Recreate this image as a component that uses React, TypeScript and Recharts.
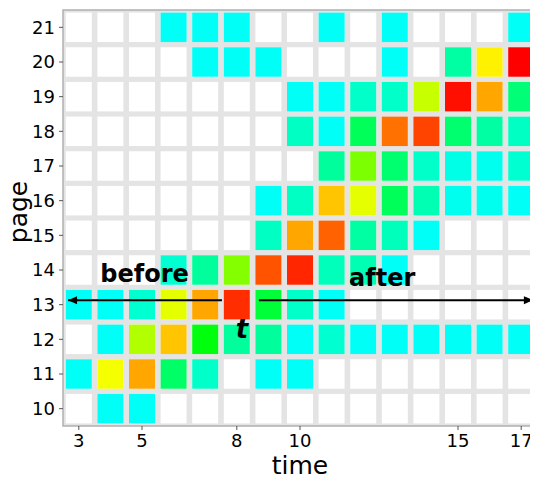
import {
  ScatterChart,
  Scatter,
  XAxis,
  YAxis,
  CartesianGrid,
  ReferenceArea,
  ReferenceDot,
  Label,
} from 'recharts';

// ─── data ─────────────────────────────────────────────────────────────────────

const N = null;

const times = [3, 4, 5, 6, 7, 8, 9, 10, 11, 12, 13, 14, 15, 16, 17];
const pages = [21, 20, 19, 18, 17, 16, 15, 14, 13, 12, 11, 10];
const timeTicks = [3, 5, 8, 10, 15, 17];
const pageTicks = [10, 11, 12, 13, 14, 15, 16, 17, 18, 19, 20, 21];

// intensity per time step (0 = cyan … 100 = red), null = not visited
const page21 = [N, N, N, 0, 0, 0, N, N, 0, N, 0, N, N, N, 0];
const page20 = [N, N, N, N, 0, 0, 0, N, N, N, 0, N, 11, 68, 100];
const page19 = [N, N, N, N, N, N, N, 0, 0, 6, 6, 59, 98, 78, 17];
const page18 = [N, N, N, N, N, N, N, 7, 0, 21, 85, 91, 18, 11, 7];
const page17 = [N, N, N, N, N, N, N, N, 12, 49, 18, 6, 2, 1, 5];
const page16 = [N, N, N, N, N, N, 0, 7, 74, 63, 21, 9, 1, 1, 0];
const page15 = [N, N, N, N, N, N, 7, 78, 87, 11, 8, 0, N, N, N];
const page14 = [N, N, N, 5, 12, 50, 89, 95, 8, 9, 0, N, N, N, N];
const page13 = [0, 0, 5, 63, 78, 94, 25, 6, 0, N, N, N, N, N, N];
const page12 = [N, 0, 56, 74, 31, 12, 12, 0, 5, 0, 0, 0, 0, 0, 0];
const page11 = [0, 65, 78, 19, 6, N, 0, 0, N, N, N, N, N, N, N];
const page10 = [N, 0, 0, N, N, N, N, N, N, N, N, N, N, N, N];

const rows = [page21, page20, page19, page18, page17, page16, page15, page14, page13, page12, page11, page10];

// annotations (data coordinates); dir marks the arrow tip
const beforeArrow = [{ time: 7.53, page: 13.13, dir: 0 }, { time: 2.66, page: 13.13, dir: -1 }];
const afterArrow = [{ time: 8.7, page: 13.13, dir: 0 }, { time: 17.37, page: 13.13, dir: 1 }];
const beforeText = { x: 5.08, y: 13.65, text: 'before' };
const afterText = { x: 12.6, y: 13.54, text: 'after' };
const tText = { x: 8.16, y: 12.04, text: 't' };

// ─── helpers ──────────────────────────────────────────────────────────────────

const FONT = 'DejaVu Sans';
const W = 530;
const H = 472;
const PLOT_W = 474;
const PLOT_H = 416;
const CELL_W = PLOT_W / times.length - 5.6;
const CELL_H = PLOT_H / pages.length - 5.2;

const cells = pages.flatMap((p, r) => times.map((t, c) => ({ time: t, page: p, v: rows[r][c] })));
const filled = cells.filter(d => d.v !== null);

function heat(v: number) {
  const hue = 178 - 1.78 * v;
  return `hsl(${hue}, 100%, 50%)`;
}

const WhiteCell = (p: any) => (
  <rect x={p.cx - CELL_W / 2} y={p.cy - CELL_H / 2} width={CELL_W} height={CELL_H} fill="#ffffff" />
);

const HeatCell = (p: any) => (
  <rect x={p.cx - CELL_W / 2} y={p.cy - CELL_H / 2} width={CELL_W} height={CELL_H} fill={heat(p.payload.v)} />
);

const ArrowHead = (p: any) => {
  const dir = p.payload.dir;
  if (!dir) return <g />;
  const head = 9;
  const { cx, cy } = p;
  return <polygon points={`${cx},${cy} ${cx - dir * head},${cy - 4} ${cx - dir * head},${cy + 4}`} fill="#000" />;
};

const annText = (text: string, italic = false, size = 24) => (p: any) => (
  <text
    x={p.cx}
    y={p.cy}
    textAnchor="middle"
    fontFamily={FONT}
    fontWeight="bold"
    fontStyle={italic ? 'italic' : 'normal'}
    fontSize={size}
    fill="#000"
  >
    {text}
  </text>
);

const PageLabel = (p: any) => {
  const vb = p.viewBox;
  const x = 19;
  const y = vb.y + vb.height / 2 - 6;
  return (
    <g transform={`translate(${x}, ${y}) rotate(-90)`}>
      <text x={0} y={0} textAnchor="middle" fontFamily={FONT} fontSize={25} fill="#000">
        page
      </text>
    </g>
  );
};

const tickStyle = { fontSize: 18, fontFamily: FONT, fill: '#000' };

// ─── chart ────────────────────────────────────────────────────────────────────

export default function App() {
  return (
    <div style={{ width: W, height: H }}>
      <ScatterChart width={W} height={H} margin={{ top: 2, right: 1, left: 0, bottom: 0 }}>
        <CartesianGrid fill="#e4e4e4" horizontal={false} vertical={false} />
        <XAxis
          type="number"
          dataKey="time"
          domain={[2.5, 17.5]}
          ticks={timeTicks}
          interval={0}
          height={54}
          tick={tickStyle}
          tickSize={4}
          tickMargin={4}
          tickLine={{ stroke: '#555' }}
          axisLine={false}
          allowDataOverflow
        >
          <Label value="time" position="insideBottom" offset={6} style={{ fontSize: 25, fontFamily: FONT, fill: '#000' }} />
        </XAxis>
        <YAxis
          type="number"
          dataKey="page"
          domain={[9.5, 21.5]}
          ticks={pageTicks}
          interval={0}
          width={55}
          tick={tickStyle}
          tickSize={4}
          tickMargin={4}
          tickLine={{ stroke: '#555' }}
          axisLine={false}
          allowDataOverflow
          label={{ content: PageLabel }}
        />
        <Scatter data={cells} shape={WhiteCell} isAnimationActive={false} />
        <Scatter data={filled} shape={HeatCell} isAnimationActive={false} />
        <Scatter
          data={beforeArrow}
          line={{ stroke: '#000', strokeWidth: 2 }}
          shape={ArrowHead}
          isAnimationActive={false}
        />
        <Scatter
          data={afterArrow}
          line={{ stroke: '#000', strokeWidth: 2 }}
          shape={ArrowHead}
          isAnimationActive={false}
        />
        <ReferenceArea x1={2.5} x2={17.5} y1={9.5} y2={21.5} fill="none" fillOpacity={0} stroke="#b0b0b0" strokeWidth={1.5} />
        <ReferenceDot x={beforeText.x} y={beforeText.y} r={0} shape={annText(beforeText.text)} ifOverflow="visible" />
        <ReferenceDot x={afterText.x} y={afterText.y} r={0} shape={annText(afterText.text)} ifOverflow="visible" />
        <ReferenceDot x={tText.x} y={tText.y} r={0} shape={annText(tText.text, true, 26)} ifOverflow="visible" />
      </ScatterChart>
    </div>
  );
}
